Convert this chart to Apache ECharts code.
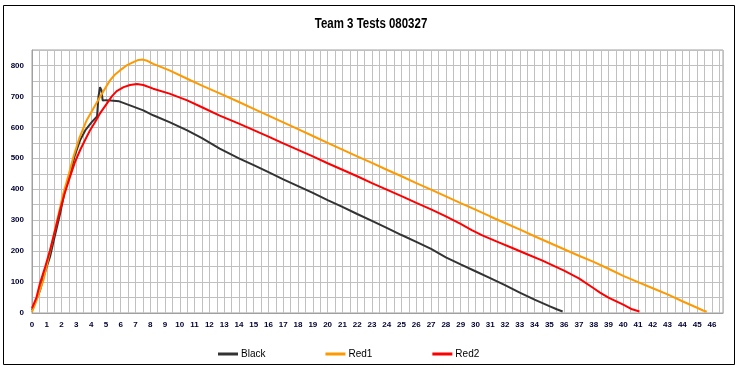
<!DOCTYPE html>
<html>
<head>
<meta charset="utf-8">
<script src="https://cdn.jsdelivr.net/npm/echarts@6/dist/echarts.min.js"></script>
<style>
html,body{margin:0;padding:0;background:#fff;}
#chart{width:740px;height:370px;}
</style>
</head>
<body>
<div id="chart"></div>
<script>
const titleText = "Team 3 Tests 080327";
const seriesNames = ["Black", "Red1", "Red2"];

const blackData = [[0,10],[0.1,20],[0.3,45],[0.55,74],[0.8,120],[1.0,150],[1.22,182],[1.5,240],[1.9,321],[2.2,390],[2.57,450],[2.9,510],[3.25,558],[3.6,590],[4.04,617],[4.4,635],[4.5,700],[4.6,730],[4.7,720],[4.78,687],[5.0,688],[5.5,686],[5.9,684],[6.63,671],[7.53,655],[8.2,639],[9.3,617],[10.5,590],[11.5,565],[12.7,531],[14,500],[15,478],[16,455],[17,432],[18,410],[19,388],[20,365],[21,343],[22,320],[23,298],[24,275],[25,252],[26,230],[27,207],[28,180],[29,157],[30,135],[31,113],[32,90],[33,66],[34,43],[35,22],[35.5,12],[35.9,5]];

const red1Data = [[0,3],[0.3,40],[0.77,106],[1.1,175],[1.44,246],[1.8,320],[2.12,386],[2.5,450],[2.8,504],[3.2,565],[3.7,623],[4.2,665],[4.6,698],[5.0,730],[5.28,752],[5.6,770],[5.95,784],[6.4,800],[6.86,811],[7.2,818],[7.5,819],[7.8,815],[8.2,805],[9.3,784],[10.5,757],[11.5,735],[12.7,710],[14,682],[15,660],[16,638],[17,616],[18,594],[19,572],[20,550],[21,528],[22,506],[23,485],[24,463],[25,442],[26,420],[27,399],[28,377],[29,355],[30,334],[31,312],[32,291],[33.1,268],[34,248],[35,227],[36,206],[37,185],[38,165],[39,143],[40,120],[41,100],[42,80],[43,60],[44,38],[45,17],[45.4,8],[45.65,4]];

const red2Data = [[0,16],[0.3,50],[0.54,96],[0.9,150],[1.22,203],[1.55,265],[1.9,332],[2.2,385],[2.57,440],[2.9,487],[3.25,526],[3.6,560],[3.92,590],[4.3,620],[4.6,645],[5.05,676],[5.4,700],[5.73,717],[6.2,730],[6.63,737],[7.1,740],[7.53,737],[8.2,725],[9.3,709],[10.5,687],[11.5,665],[12.7,638],[14,612],[15,591],[16,570],[17,548],[18,527],[19,506],[20,484],[21,463],[22,442],[23,420],[24,399],[25,378],[26,356],[27,335],[28,312],[29,288],[29.75,268],[30.5,250],[31.5,230],[32.5,210],[33.5,190],[34.5,170],[35.05,158],[36,137],[37,112],[38,80],[38.43,66],[39,50],[40,27],[40.6,12],[41.1,5]];

const colors = ["#333333", "#FF9900", "#FF0000"];
const allData = [blackData, red1Data, red2Data];

const chart = echarts.init(document.getElementById('chart'), null, {renderer: 'canvas'});
const option = {
  animation: false,
  backgroundColor: '#ffffff',
  legend: {
    left: 213,
    top: 344,
    itemGap: 60,
    itemWidth: 20,
    itemHeight: 3,
    icon: 'rect',
    textStyle: {fontFamily: 'Liberation Sans', fontSize: 10, color: '#000', padding: [0,0,0,-2]},
    data: seriesNames
  },
  grid: {left: 32, right: 17, top: 50, bottom: 57, show: true, borderColor: '#a0a0a0', borderWidth: 1},
  xAxis: {
    type: 'value', min: 0, max: 46.75, interval: 0.5,
    axisLine: {show: true, lineStyle: {color: '#a0a0a0'}},
    axisTick: {show: false},
    splitLine: {show: true, lineStyle: {color: '#c0c0c0', width: 1}},
    axisLabel: {
      showMaxLabel: false, margin: 8, fontSize: 8, fontWeight: 'bold', fontFamily: 'Liberation Sans', color: '#000033',
      formatter: v => (Math.abs(v - Math.round(v)) < 1e-6 ? String(Math.round(v)) : '')
    }
  },
  yAxis: {
    type: 'value', min: 0, max: 850, interval: 50,
    axisLine: {show: true, lineStyle: {color: '#a0a0a0'}},
    axisTick: {show: false},
    splitLine: {show: true, lineStyle: {color: '#c0c0c0', width: 1}},
    axisLabel: {
      margin: 8, fontSize: 8, fontWeight: 'bold', fontFamily: 'Liberation Sans', color: '#000033',
      formatter: v => (v % 100 === 0 ? String(v) : '')
    }
  },
  series: seriesNames.map((n, i) => ({
    name: n, type: 'line', data: allData[i], showSymbol: false, symbol: 'none',
    lineStyle: {color: colors[i], width: 2}, itemStyle: {color: colors[i]}
  })),
  graphic: [{
    type: 'rect', silent: true, z: -1,
    shape: {x: 3.5, y: 5.5, width: 731, height: 359},
    style: {fill: 'none', stroke: '#000', lineWidth: 1}
  }, {
    type: 'text', x: 371, y: 24, scaleX: 0.82,
    style: {text: titleText, font: 'bold 14px "Liberation Sans"', fill: '#000', textAlign: 'center', textVerticalAlign: 'middle'}
  }]
};
chart.setOption(option);
</script>
</body>
</html>
